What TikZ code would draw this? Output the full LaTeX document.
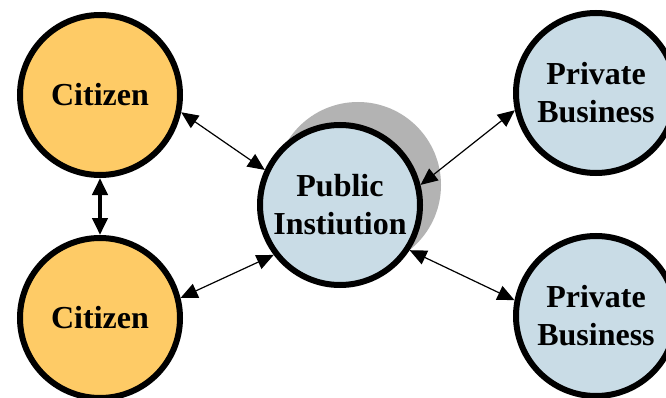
\documentclass[tikz,border=0pt]{standalone}
\usepackage{fontspec}
\setmainfont{Liberation Serif}
\usepackage{xcolor}
\usetikzlibrary{arrows.meta}
\definecolor{citizenfill}{HTML}{FECB66}
\definecolor{orgfill}{HTML}{C9DCE6}
\definecolor{shadowgray}{HTML}{B3B3B3}

\begin{document}
\begin{tikzpicture}[x=1pt,y=-1pt,
  actor/.style={circle,draw,line width=6pt,minimum size=160pt,inner sep=0pt,
    align=center,font=\fontsize{32}{38}\selectfont\bfseries},
  link/.style={<->,>={Triangle[length=17pt,width=15pt]},line width=1.2pt}]
  \useasboundingbox (0,0) rectangle (666,398);

\fill[shadowgray] (358,185) circle (83pt);

\node[actor,fill=citizenfill] (cittop) at (100,95) {Citizen};
\node[actor,fill=citizenfill] (citbot) at (100,318) {Citizen};

\node[actor,fill=orgfill] (pub) at (340,205) {Public\\Instiution};

\node[actor,fill=orgfill] (privtop) at (596,93) {Private\\Business};
\node[actor,fill=orgfill] (privbot) at (596,316) {Private\\Business};


\draw[link,line width=4pt] (cittop.south) -- (citbot.north);

\draw[link] (cittop.-12) -- (pub.155);
\draw[link] (citbot.14) -- (pub.217);

\draw[link] (pub.14) -- (privtop.192);
\draw[link] (pub.-33) -- (privbot.169);

\end{tikzpicture}
\end{document}
